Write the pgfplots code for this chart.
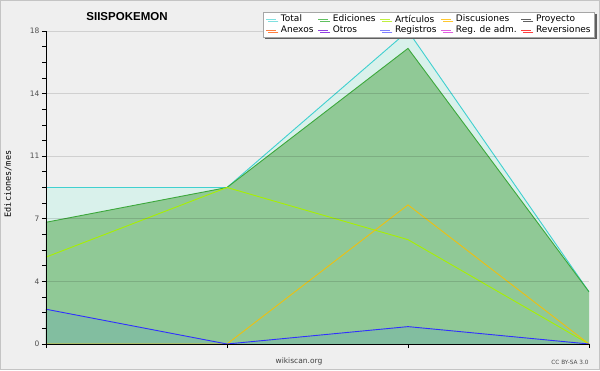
\documentclass[border=0pt]{standalone}
\usepackage{pgfplots}
\pgfplotsset{compat=1.18}
\usepackage{fontspec}
\setmainfont{DejaVu Sans}
\newfontfamily\titlefont{Liberation Sans}
\newfontfamily\monofont{DejaVu Sans Mono}
\usetikzlibrary{shadows}
\definecolor{bgcol}{HTML}{EFEFEF}
\definecolor{framecol}{HTML}{C4C4C4}
\definecolor{totfill}{HTML}{D9F1EB}
\definecolor{totline}{HTML}{40D0D0}
\definecolor{edfill}{HTML}{90C996}
\definecolor{edline}{HTML}{3CA83C}
\definecolor{artline}{HTML}{A8F000}
\definecolor{discline}{HTML}{EEC010}
\definecolor{regline}{HTML}{3030FF}
\definecolor{regfill}{HTML}{82BEA0}
\definecolor{lgTotal}{HTML}{80E0E0}
\definecolor{lgEd}{HTML}{60C060}
\definecolor{lgArt}{HTML}{C0F040}
\definecolor{lgDisc}{HTML}{FFC830}
\definecolor{lgProy}{HTML}{606060}
\definecolor{lgAnex}{HTML}{FF8040}
\definecolor{lgOtros}{HTML}{9040E0}
\definecolor{lgReg}{HTML}{8080FF}
\definecolor{lgRegAdm}{HTML}{E060E0}
\definecolor{lgRev}{HTML}{FF4040}
\definecolor{ticklab}{HTML}{505050}
\begin{document}
\begin{tikzpicture}
\fill[bgcol] (0pt,0pt) rectangle (600pt,370pt);
\draw[framecol, line width=1pt] (0.5pt,0.5pt) rectangle (599.5pt,369.5pt);
\begin{axis}[
  at={(46pt,26pt)}, anchor=south west,
  scale only axis, width=543pt, height=313pt,
  xmin=0, xmax=3, ymin=0, ymax=18,
  axis x line*=bottom, axis y line*=left,
  axis line style={black, line width=0.9pt},
  xtick={0,1,2,3}, xticklabels={},
  ytick={0,3.6,7.2,10.8,14.4,18},
  yticklabels={0,4,7,11,14,18},
  minor y tick num=3,
  tick align=outside,
  major tick length=4pt, minor tick length=3.5pt,
  tick style={black, line width=0.8pt},
  ymajorgrids,
  grid style={black, opacity=0.13, line width=0.9pt},
  axis on top,
  /pgf/number format/assume math mode=true,
  yticklabel style={font=\fontsize{7.5}{8}\selectfont, text=ticklab, xshift=1pt},
  legend columns=5,
  legend cell align=left,
  legend image code/.code={\draw[#1, line width=0.8pt] (0pt,0pt) -- (10pt,0pt);},
  legend style={
    at={(rel axis cs:1.011,1.0607)}, anchor=north east,
    draw=gray!70, fill=white, line width=0.6pt,
    drop shadow={shadow xshift=2pt, shadow yshift=-2pt, fill=gray!75!black, opacity=1},
    font=\fontsize{9}{9}\selectfont,
    inner xsep=3pt, inner ysep=1.5pt,
    /tikz/every even column/.append style={column sep=3.3pt},
    /tikz/every odd column/.append style={column sep=3.3pt},
    /tikz/row sep=0.5pt,
    nodes={inner sep=1pt},
  },
]
% Total area
\addplot[draw=none, fill=totfill, forget plot] coordinates {(0,9)(1,9)(2,18)(3,3)} \closedcycle;
% Ediciones area
\addplot[draw=none, fill=edfill, forget plot] coordinates {(0,7)(1,9)(2,17)(3,3)} \closedcycle;
% Registros area
\addplot[draw=none, fill=regfill, forget plot] coordinates {(0,2)(1,0)(2,1)(3,0)} \closedcycle;
% lines
\addplot[totline, line width=0.9pt, forget plot] coordinates {(0,9)(1,9)(2,18)(3,3)};
\addplot[edline, line width=0.9pt, forget plot] coordinates {(0,7)(1,9)(2,17)(3,3)};
\addplot[artline, line width=0.9pt, forget plot] coordinates {(0,5)(1,9)(2,6)(3,0)};
\addplot[discline, line width=0.9pt, forget plot] coordinates {(0,0)(1,0)(2,8)(3,0)};
\addplot[regline, line width=0.9pt, forget plot] coordinates {(0,2)(1,0)(2,1)(3,0)};
% legend
\addlegendimage{lgTotal}\addlegendentry{Total}
\addlegendimage{lgEd}\addlegendentry{Ediciones}
\addlegendimage{lgArt}\addlegendentry{Artículos}
\addlegendimage{lgDisc}\addlegendentry{Discusiones}
\addlegendimage{lgProy}\addlegendentry{Proyecto}
\addlegendimage{lgAnex}\addlegendentry{Anexos}
\addlegendimage{lgOtros}\addlegendentry{Otros}
\addlegendimage{lgReg}\addlegendentry{Registros}
\addlegendimage{lgRegAdm}\addlegendentry{Reg. de adm.}
\addlegendimage{lgRev}\addlegendentry{Reversiones}
\end{axis}
\node[font=\titlefont\bfseries\fontsize{11.5}{12}\selectfont] at (127pt,353pt) {SIISPOKEMON};
\node[font=\fontsize{7.5}{8}\selectfont, text=black!75] at (299pt,9pt) {wikiscan.org};
\node[font=\fontsize{5.8}{6}\selectfont, text=black!70] at (570pt,8pt) {CC BY-SA 3.0};
\node[font=\monofont\fontsize{8.5}{8.5}\selectfont, rotate=90] at (8pt,186pt) {Ediciones/mes};
\end{tikzpicture}
\end{document}
